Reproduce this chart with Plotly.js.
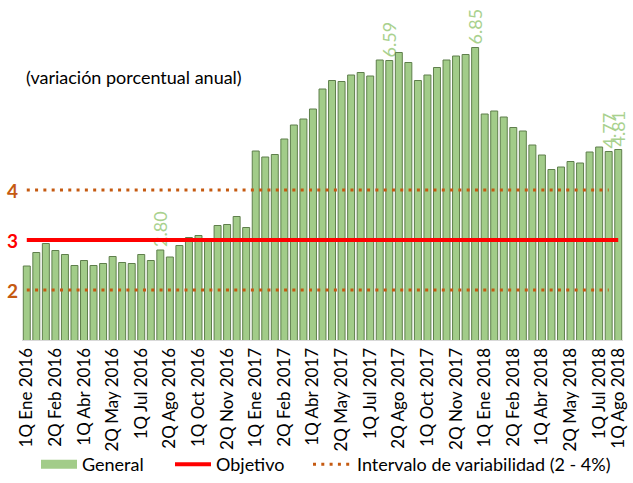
<!DOCTYPE html>
<html>
<head>
<meta charset="utf-8">
<script src="https://cdn.plot.ly/plotly-3.0.1.min.js"></script>
<style>
  html, body { margin: 0; padding: 0; background: #fff; }
  #chart { width: 633px; height: 483px; }
</style>
</head>
<body>
<div id="chart"></div>
<script>
// Inflación general quincenal, 1Q Ene 2016 - 1Q Ago 2018
const meses = ['Ene', 'Feb', 'Mar', 'Abr', 'May', 'Jun', 'Jul', 'Ago', 'Sep', 'Oct', 'Nov', 'Dic'];
const anios = [2016, 2017, 2018];

const general = [
    2.48, 2.75, 2.93, 2.79, 2.71, 2.49, 2.59, 2.49, 2.53, 2.67, 2.55, 2.53,
    2.71, 2.59, 2.80, 2.66, 2.89, 3.05, 3.09, 3.00, 3.29, 3.31, 3.47, 3.25,
    4.78, 4.66, 4.71, 5.02, 5.30, 5.42, 5.62, 6.02, 6.19, 6.17, 6.30, 6.35,
    6.28, 6.60, 6.59, 6.75, 6.55, 6.19, 6.30, 6.45, 6.60, 6.68, 6.71, 6.85,
    5.52, 5.58, 5.46, 5.25, 5.18, 4.90, 4.70, 4.41, 4.46, 4.57, 4.54, 4.76,
    4.86, 4.77, 4.81
];

// bars carrying a value label
const etiquetados = [14, 38, 47, 61, 62];

const tickIdx = [0, 3, 6, 9, 12, 15, 18, 21, 24, 27, 30, 33, 36, 39, 42, 45, 48, 51, 54, 57, 60, 62];

const objetivo = 3;
const intervaloBajo = 2;
const intervaloAlto = 4;
const ultimoIntervalo = 61; // dotted lines stop before the last bar

// category names (1Q/2Q per month)
const quincenas = [];
anios.forEach(a => {
    meses.forEach(m => {
        quincenas.push('1Q ' + m + ' ' + a);
        quincenas.push('2Q ' + m + ' ' + a);
    });
});
const categorias = quincenas.slice(0, general.length);

const etiquetas = general.map((v, i) => etiquetados.includes(i) ? v.toFixed(2) : '');

const FONT = 'Lato, "Open Sans", sans-serif';
const NARANJA = '#c55a11';
const VERDE = '#a2cc89';
const PUNTEADO = '3px,5.3px';

const traceGeneral = {
    x: categorias,
    y: general,
    type: 'bar',
    name: 'General',
    showlegend: false,
    marker: { color: VERDE, line: { color: '#5f7f4c', width: 1 } },
    text: etiquetas,
    textposition: 'outside',
    textangle: -90,
    constraintext: 'none',
    cliponaxis: false,
    outsidetextfont: { family: FONT, size: 18, color: '#a9d18e' },
    hoverinfo: 'x+y'
};

// legend-only entry so the key shows a wide green block like the original
const legendGeneral = {
    x: [null], y: [null],
    type: 'scatter', mode: 'lines',
    name: 'General',
    legend: 'legend',
    line: { color: VERDE, width: 9 },
    hoverinfo: 'skip'
};

const traceObjetivo = {
    x: [categorias[0], categorias[categorias.length - 1]],
    y: [objetivo, objetivo],
    type: 'scatter',
    mode: 'lines',
    name: 'Objetivo',
    legend: 'legend2',
    line: { color: '#ff0000', width: 4 }
};

const traceBajo = {
    x: [categorias[0], categorias[ultimoIntervalo]],
    y: [intervaloBajo, intervaloBajo],
    type: 'scatter',
    mode: 'lines',
    name: 'Intervalo de variabilidad (2 - 4%)',
    legend: 'legend3',
    legendgroup: 'int',
    line: { color: NARANJA, width: 3, dash: PUNTEADO }
};

const traceAlto = {
    x: [categorias[0], categorias[ultimoIntervalo]],
    y: [intervaloAlto, intervaloAlto],
    type: 'scatter',
    mode: 'lines',
    name: 'Intervalo de variabilidad (2 - 4%)',
    legend: 'legend3',
    legendgroup: 'int',
    showlegend: false,
    line: { color: NARANJA, width: 3, dash: PUNTEADO }
};

// legends sit in container coordinates so they do not push the plot margins
const legendBase = {
    yref: 'container', xref: 'container',
    y: 0.038, yanchor: 'middle', xanchor: 'left',
    font: { family: FONT, size: 18, color: '#000' },
    bgcolor: 'rgba(0,0,0,0)'
};

const layout = {
    width: 633,
    height: 483,
    margin: { l: 22, r: 10, t: 25, b: 143, autoexpand: false },
    paper_bgcolor: '#ffffff',
    plot_bgcolor: '#ffffff',
    font: { family: FONT, size: 15, color: '#000' },
    bargap: 0.27,
    showlegend: true,
    legend: Object.assign({}, legendBase, { x: 36 / 633, itemwidth: 36 }),
    legend2: Object.assign({}, legendBase, { x: 170 / 633, itemwidth: 36 }),
    legend3: Object.assign({}, legendBase, { x: 308 / 633, itemwidth: 39 }),
    xaxis: {
        type: 'category',
        range: [-0.5, general.length - 0.5],
        tickmode: 'array',
        tickvals: tickIdx.map(i => categorias[i]),
        ticktext: tickIdx.map(i => categorias[i]),
        tickangle: -90,
        tickfont: { family: FONT, size: 17, color: '#000' },
        ticks: '',
        showgrid: false,
        showline: true,
        linecolor: '#d9d9d9',
        linewidth: 1,
        zeroline: false,
        automargin: false
    },
    yaxis: {
        range: [1, 7.3],
        showticklabels: false,
        showgrid: false,
        zeroline: false,
        ticks: '',
        automargin: false
    },
    annotations: [
        { xref: 'paper', yref: 'y', x: 0, y: intervaloAlto, xanchor: 'right', xshift: -2,
          text: '<b>4</b>', showarrow: false, font: { family: FONT, size: 19, color: NARANJA } },
        { xref: 'paper', yref: 'y', x: 0, y: objetivo, xanchor: 'right', xshift: -2,
          text: '<b>3</b>', showarrow: false, font: { family: FONT, size: 19, color: '#ff0000' } },
        { xref: 'paper', yref: 'y', x: 0, y: intervaloBajo, xanchor: 'right', xshift: -2,
          text: '<b>2</b>', showarrow: false, font: { family: FONT, size: 19, color: NARANJA } },
        { xref: 'paper', yref: 'paper', x: 0.003, y: 0.835, xanchor: 'left', yanchor: 'middle',
          text: '(variación porcentual anual)', showarrow: false,
          font: { family: FONT, size: 18, color: '#000' } }
    ]
};

Plotly.newPlot('chart', [traceGeneral, legendGeneral, traceObjetivo, traceBajo, traceAlto], layout, { displayModeBar: false });
</script>
</body>
</html>
